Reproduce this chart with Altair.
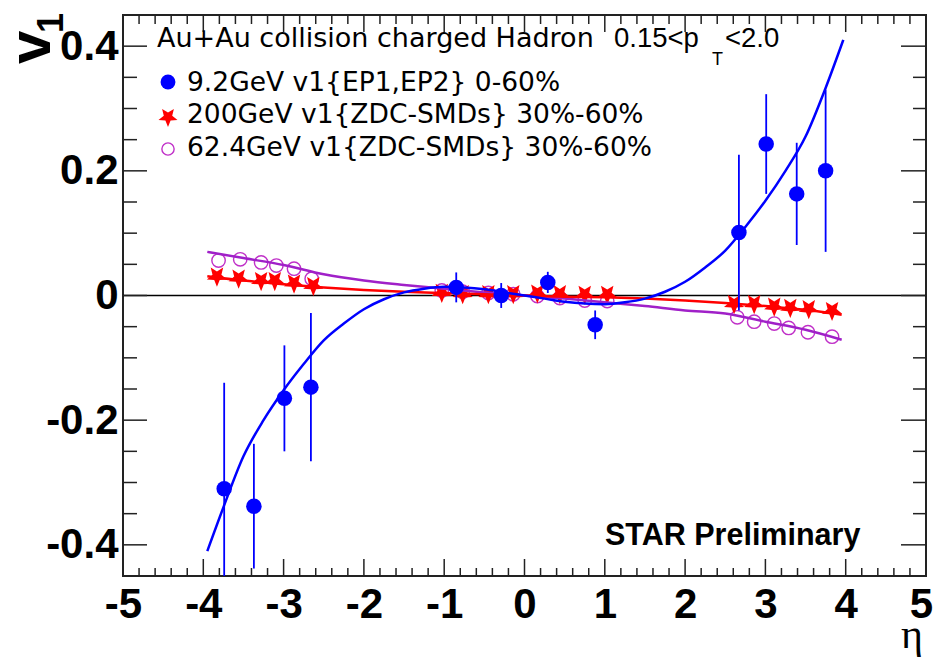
import altair as alt
import pandas as pd

# ---------------- data ----------------
# 9.2 GeV v1{EP1,EP2} 0-60% (filled blue circles with error bars)
eta_92 = [-3.74, -3.37, -2.99, -2.66, -0.85, -0.29, 0.29, 0.88, 2.67, 3.01, 3.39, 3.75]
v1_92 = [-0.310, -0.338, -0.165, -0.147, 0.013, 0.000, 0.021, -0.047, 0.101, 0.243, 0.163, 0.200]
err_92 = [0.170, 0.100, 0.085, 0.119, 0.024, 0.020, 0.017, 0.023, 0.125, 0.080, 0.082, 0.130]

# 200 GeV v1{ZDC-SMDs} 30%-60% (red stars)
eta_200 = [-3.83, -3.56, -3.28, -3.11, -2.87, -2.63,
           -1.03, -0.77, -0.45, -0.14, 0.16, 0.44, 0.75, 1.03,
           2.61, 2.86, 3.11, 3.31, 3.54, 3.83]
v1_200 = [0.031, 0.028, 0.024, 0.024, 0.020, 0.016,
          0.005, 0.003, 0.003, 0.003, 0.004, 0.003, 0.002, 0.002,
          -0.013, -0.013, -0.017, -0.019, -0.021, -0.024]

# 62.4 GeV v1{ZDC-SMDs} 30%-60% (open magenta circles)
eta_62 = [-3.81, -3.54, -3.28, -3.09, -2.87, -2.65,
          -1.03, -0.77, -0.45, -0.14, 0.16, 0.44, 0.75, 1.03,
          2.65, 2.86, 3.11, 3.29, 3.53, 3.83]
v1_62 = [0.056, 0.058, 0.053, 0.048, 0.043, 0.027,
         0.008, 0.006, 0.004, 0.002, -0.001, -0.004, -0.008, -0.009,
         -0.035, -0.042, -0.045, -0.052, -0.059, -0.066]

# fit curves
fit92_eta = [-3.95, -3.75, -3.5, -3.25, -3.0, -2.75, -2.5, -2.25, -2.0, -1.75, -1.5, -1.25,
             -1.0, -0.75, -0.5, -0.25, 0.0, 0.25, 0.5, 0.75, 1.0, 1.25, 1.5, 1.75, 2.0,
             2.25, 2.5, 2.75, 3.0, 3.25, 3.5, 3.75, 3.97]
fit92_v = [-0.410, -0.340, -0.258, -0.200, -0.152, -0.110, -0.072, -0.045, -0.022, -0.006,
           0.005, 0.011, 0.014, 0.013, 0.010, 0.005, 0.000, -0.005, -0.010, -0.013, -0.014,
           -0.011, -0.005, 0.006, 0.022, 0.045, 0.072, 0.110, 0.152, 0.200, 0.255, 0.333, 0.410]

fit200_eta = [-3.95, -3.5, -3.0, -2.5, -2.0, -1.5, -1.0, -0.5, 0.0, 0.5, 1.0, 1.5, 2.0, 2.5, 3.0, 3.5, 3.95]
fit200_v = [0.031, 0.024, 0.018, 0.013, 0.009, 0.006, 0.004, 0.002, 0.000, -0.002, -0.003,
            -0.005, -0.008, -0.012, -0.017, -0.023, -0.031]

fit62_eta = [-3.95, -3.5, -3.0, -2.5, -2.0, -1.5, -1.0, -0.5, 0.0, 0.5, 1.0, 1.5, 2.0, 2.5, 3.0, 3.5, 3.95]
fit62_v = [0.070, 0.060, 0.049, 0.034, 0.024, 0.017, 0.011, 0.005, 0.000, -0.005, -0.011,
           -0.017, -0.024, -0.029, -0.042, -0.055, -0.071]

x_major = [-5, -4, -3, -2, -1, 0, 1, 2, 3, 4, 5]
x_minor = [round(-5 + 0.2 * i, 1) for i in range(51) if i % 5 != 0]
y_major = [-0.4, -0.2, 0.0, 0.2, 0.4]
y_minor = [-0.35, -0.3, -0.25, -0.15, -0.1, -0.05, 0.05, 0.1, 0.15, 0.25, 0.3, 0.35]

legend_labels = ["9.2GeV v1{EP1,EP2} 0-60%",
                 "200GeV v1{ZDC-SMDs} 30%-60%",
                 "62.4GeV v1{ZDC-SMDs} 30%-60%"]

# ---------------- styling ----------------
W, H = 803, 561
BLUE = "#0000ff"
RED = "#ff0000"
MAG_LINE = "#a020c8"
MAG_PT = "#c030c8"
STAR = ("M0,1 L-0.26,0.36 L-0.951,0.309 L-0.42,-0.137 L-0.588,-0.809 L0,-0.44 "
        "L0.588,-0.809 L0.42,-0.137 L0.951,0.309 L0.26,0.36 Z")

xs = alt.Scale(domain=[-5, 5], nice=False, zero=False)
ys = alt.Scale(domain=[-0.45, 0.45], nice=False, zero=False)

x_axis = alt.Axis(values=x_major, domain=False, ticks=False, grid=False,
                  labelFont="Liberation Sans", labelFontWeight="bold", labelFontSize=42,
                  labelColor="black", labelPadding=8, labelFlush=False, labelOverlap=False,
                  labelBound=False,
                  labelOffset={"condition": {"test": "datum.value == 5", "value": -5}, "value": 0},
                  labelExpr="datum.value < 0 ? '-' + format(-datum.value, 'd') : format(datum.value, 'd')",
                  title=None)
y_axis = alt.Axis(values=y_major, domain=False, ticks=False, grid=False,
                  labelFont="Liberation Sans", labelFontWeight="bold", labelFontSize=42,
                  labelColor="black", labelPadding=5, labelFlush=False, labelOverlap=False,
                  labelExpr="datum.value == 0 ? '0' : (datum.value < 0 ? '-' : '') + format(abs(datum.value), '.1f')",
                  title=None)


def X(f):
    return alt.X(f, type="quantitative", scale=xs, axis=x_axis, title=None)


def Y(f):
    return alt.Y(f, type="quantitative", scale=ys, axis=y_axis, title=None)


df92 = pd.DataFrame({"eta": eta_92, "v": v1_92, "err": err_92})
df92["lo"] = df92["v"] - df92["err"]
df92["hi"] = df92["v"] + df92["err"]
df200 = pd.DataFrame({"eta": eta_200, "v": v1_200})
df62 = pd.DataFrame({"eta": eta_62, "v": v1_62})
f92 = pd.DataFrame({"eta": fit92_eta, "v": fit92_v})
f200 = pd.DataFrame({"eta": fit200_eta, "v": fit200_v})
f62 = pd.DataFrame({"eta": fit62_eta, "v": fit62_v})

# zero line
zero = alt.Chart(pd.DataFrame({"x0": [-5], "x1": [5], "y": [0.0]})).mark_rule(
    color="black", strokeWidth=1.5).encode(x=X("x0"), x2="x1", y=Y("y"))

# inward ticks
xmaj = pd.DataFrame({"t": x_major[1:-1]})
xmin = pd.DataFrame({"t": x_minor})
ymaj = pd.DataFrame({"t": y_major})
ymin = pd.DataFrame({"t": y_minor})
tick_col = "#222222"
ticks = [
    alt.Chart(xmaj).mark_rule(color=tick_col, strokeWidth=1.5).encode(x=X("t"), y=alt.value(H), y2=alt.value(H - 17)),
    alt.Chart(xmin).mark_rule(color=tick_col, strokeWidth=1.5).encode(x=X("t"), y=alt.value(H), y2=alt.value(H - 8)),
    alt.Chart(xmaj).mark_rule(color=tick_col, strokeWidth=1.5).encode(x=X("t"), y=alt.value(0), y2=alt.value(17)),
    alt.Chart(xmin).mark_rule(color=tick_col, strokeWidth=1.5).encode(x=X("t"), y=alt.value(0), y2=alt.value(9)),
    alt.Chart(ymaj).mark_rule(color=tick_col, strokeWidth=1.5).encode(y=Y("t"), x=alt.value(0), x2=alt.value(24)),
    alt.Chart(ymin).mark_rule(color=tick_col, strokeWidth=1.5).encode(y=Y("t"), x=alt.value(0), x2=alt.value(14)),
    alt.Chart(ymaj).mark_rule(color=tick_col, strokeWidth=1.5).encode(y=Y("t"), x=alt.value(W), x2=alt.value(W - 25)),
    alt.Chart(ymin).mark_rule(color=tick_col, strokeWidth=1.5).encode(y=Y("t"), x=alt.value(W), x2=alt.value(W - 13)),
]

pts62 = alt.Chart(df62).mark_point(shape="circle", filled=False, size=180, strokeWidth=1.4,
                                   color=MAG_PT, opacity=1).encode(x=X("eta"), y=Y("v"))
pts200 = alt.Chart(df200).mark_point(shape=STAR, filled=True, size=450, color=RED,
                                     opacity=1).encode(x=X("eta"), y=Y("v"))
line62 = alt.Chart(f62).mark_line(color=MAG_LINE, strokeWidth=2.5, interpolate="monotone").encode(
    x=X("eta"), y=Y("v"), order="eta:Q")
line200 = alt.Chart(f200).mark_line(color=RED, strokeWidth=2.5, interpolate="monotone").encode(
    x=X("eta"), y=Y("v"), order="eta:Q")
line92 = alt.Chart(f92).mark_line(color=BLUE, strokeWidth=2.5, interpolate="monotone").encode(
    x=X("eta"), y=Y("v"), order="eta:Q")
err92 = alt.Chart(df92).mark_rule(color=BLUE, strokeWidth=1.8, clip=True).encode(
    x=X("eta"), y=Y("lo"), y2="hi")
pts92 = alt.Chart(df92).mark_point(shape="circle", filled=True, size=240, color=BLUE,
                                   opacity=1).encode(x=X("eta"), y=Y("v"))

# ---------------- texts ----------------
SANS = "DejaVu Sans"
ARIAL = "Liberation Sans"
FS = 26.5


def txt(s, x, y, size, font=SANS, weight="normal", align="left", angle=0, color="black"):
    return alt.Chart(pd.DataFrame({"t": [s]})).mark_text(
        align=align, baseline="alphabetic", font=font, fontSize=size, fontWeight=weight,
        angle=angle, color=color).encode(x=alt.value(x), y=alt.value(y), text="t:N")


texts = [
    txt("Au+Au collision charged Hadron", 34, 32, 27),
    txt("0.15<p", 491, 32, 27.5, font=ARIAL),
    txt("T", 589, 50, 18, font=ARIAL),
    txt("<2.0", 602, 32, 27.5, font=ARIAL),
    txt(legend_labels[0], 64, 76, FS),
    txt(legend_labels[1], 64, 108, FS),
    txt(legend_labels[2], 64, 141, FS),
    txt("STAR Preliminary", 482, 530, 30.5, font=ARIAL, weight="bold"),
    txt("η", 800, 633, 42, font="Liberation Serif", align="right"),
    txt("v", -73, 49, 60, font=ARIAL, weight="bold", angle=270),
    txt("1", -60, 18, 36, font=ARIAL, weight="bold", angle=270),
]

leg = pd.DataFrame({"lab": legend_labels})
leg_markers = [
    alt.Chart(leg.iloc[[0]]).mark_point(shape="circle", filled=True, size=220, color=BLUE, opacity=1)
    .encode(x=alt.value(45), y=alt.value(67)),
    alt.Chart(leg.iloc[[1]]).mark_point(shape=STAR, filled=True, size=400, color=RED, opacity=1)
    .encode(x=alt.value(45), y=alt.value(102)),
    alt.Chart(leg.iloc[[2]]).mark_point(shape="circle", filled=False, size=150, strokeWidth=1.4,
                                        color=MAG_PT, opacity=1)
    .encode(x=alt.value(45), y=alt.value(134)),
]

chart = alt.layer(
    zero, *ticks, pts62, pts200, line62, line200, line92, err92, pts92, *texts, *leg_markers
).properties(
    width=W, height=H,
    autosize=alt.AutoSizeParams(type="none"),
    padding={"left": 123, "top": 15, "right": 11, "bottom": 82},
    background="white",
).configure_view(stroke="#222222", strokeWidth=2)

chart.save("out.html", embed_options={"renderer": "svg", "actions": False})
